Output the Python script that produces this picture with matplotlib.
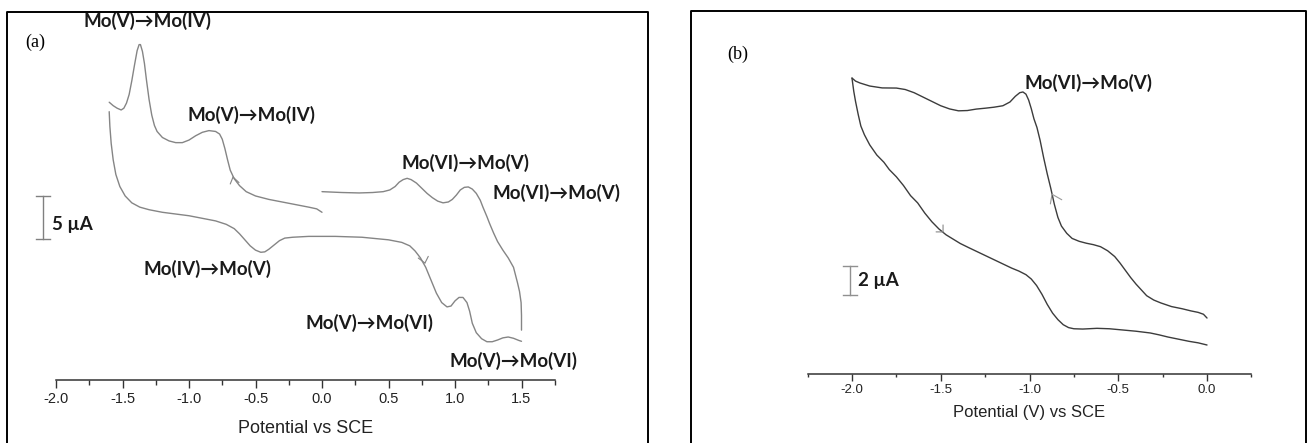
import matplotlib
matplotlib.use('Agg')
import matplotlib.pyplot as plt
from matplotlib.lines import Line2D
from matplotlib.ticker import MultipleLocator

# ---- panel (a) data: potential (V vs SCE), current (uA) ----
a_upper_v = [-1.60, -1.57, -1.54, -1.51, -1.49, -1.47, -1.45, -1.43, -1.41, -1.39, -1.375, -1.365,
             -1.35, -1.335, -1.32, -1.30, -1.28, -1.26, -1.24, -1.20, -1.15, -1.10, -1.05, -1.00,
             -0.95, -0.90, -0.85, -0.80, -0.77, -0.75, -0.73, -0.71, -0.69, -0.66, -0.62, -0.57,
             -0.50, -0.40, -0.30, -0.20, -0.10, -0.04, 0.00]
a_upper_i = [32.3, 31.9, 31.6, 31.4, 31.6, 32.2, 33.2, 34.8, 36.6, 38.3, 39.0, 39.0,
             38.2, 36.8, 34.9, 32.6, 30.8, 29.6, 28.9, 28.2, 27.8, 27.6, 27.6, 27.9,
             28.4, 28.8, 29.0, 28.9, 28.6, 28.0, 26.9, 25.6, 24.4, 23.4, 22.6, 21.9,
             21.4, 21.0, 20.7, 20.4, 20.1, 19.9, 19.5]

a_lower_v = [-1.60, -1.595, -1.585, -1.57, -1.55, -1.52, -1.48, -1.43, -1.37, -1.30, -1.20, -1.10,
             -1.00, -0.90, -0.80, -0.72, -0.66, -0.62, -0.58, -0.54, -0.50, -0.46, -0.43, -0.40,
             -0.36, -0.32, -0.28, -0.22, -0.10, 0.10, 0.30, 0.50, 0.60, 0.66, 0.70, 0.74, 0.78,
             0.82, 0.86, 0.90, 0.94, 0.97, 1.00, 1.03, 1.06, 1.09, 1.11, 1.13, 1.16, 1.20, 1.24,
             1.28, 1.32, 1.36, 1.40, 1.44, 1.48, 1.50]
a_lower_i = [31.2, 29.5, 27.5, 25.6, 23.9, 22.5, 21.4, 20.6, 20.1, 19.8, 19.5, 19.3,
             19.1, 18.8, 18.5, 18.1, 17.6, 17.0, 16.3, 15.6, 15.1, 14.85, 14.9, 15.2,
             15.7, 16.2, 16.5, 16.6, 16.7, 16.7, 16.6, 16.3, 16.0, 15.6, 15.0, 14.2, 13.1,
             11.6, 10.1, 9.0, 8.5, 8.6, 9.2, 9.6, 9.6, 9.0, 8.0, 6.6, 5.5, 4.8, 4.45,
             4.45, 4.65, 4.9, 5.0, 4.85, 4.6, 4.5]

a_right_v = [1.50, 1.50, 1.497, 1.485, 1.47, 1.44, 1.40, 1.36, 1.32, 1.29, 1.26, 1.24, 1.21, 1.19,
             1.16, 1.13, 1.10, 1.07, 1.04, 1.01, 0.98, 0.95, 0.91, 0.87, 0.83, 0.79, 0.75, 0.71,
             0.67, 0.64, 0.61, 0.58, 0.55, 0.51, 0.46, 0.38, 0.28, 0.15, 0.00]
a_right_i = [5.8, 7.5, 9.0, 10.3, 11.3, 13.1, 14.2, 15.1, 16.1, 17.1, 18.2, 19.0, 20.1, 20.9,
             21.7, 22.2, 22.45, 22.4, 22.1, 21.5, 21.0, 20.7, 20.6, 20.8, 21.2, 21.7, 22.3, 22.9,
             23.3, 23.45, 23.3, 23.0, 22.5, 22.1, 21.9, 21.8, 21.75, 21.8, 21.9]

a_labels = ['Mo(V)\u2192Mo(IV)', 'Mo(V)\u2192Mo(IV)', 'Mo(VI)\u2192Mo(V)', 'Mo(VI)\u2192Mo(V)',
            'Mo(IV)\u2192Mo(V)', 'Mo(V)\u2192Mo(VI)', 'Mo(V)\u2192Mo(VI)']
a_label_v = [-1.31, -0.53, 1.08, 1.76, -0.86, 0.36, 1.44]
a_label_i = [41.74, 30.81, 25.23, 21.74, 12.91, 6.63, 2.21]

# ---- panel (b) data ----
b_upper_v = [-2.00, -1.98, -1.955, -1.90, -1.83, -1.75, -1.70, -1.65, -1.60, -1.55, -1.50, -1.45,
             -1.40, -1.35, -1.30, -1.25, -1.20, -1.15, -1.11, -1.08, -1.055, -1.037, -1.02, -1.005,
             -0.99, -0.975, -0.958, -0.94, -0.92, -0.90, -0.88, -0.86, -0.84, -0.82, -0.79, -0.76,
             -0.72, -0.68, -0.64, -0.60, -0.56, -0.52, -0.49, -0.46, -0.43, -0.40, -0.37, -0.34,
             -0.30, -0.26, -0.20, -0.14, -0.09, -0.05, -0.02, 0.00]
b_upper_i = [20.41, 20.2, 20.07, 19.86, 19.73, 19.72, 19.62, 19.4, 19.1, 18.8, 18.5, 18.28,
             18.15, 18.17, 18.27, 18.33, 18.4, 18.5, 18.76, 19.15, 19.4, 19.45, 19.3, 18.9,
             18.3, 17.6, 17.0, 16.1, 14.9, 13.8, 12.8, 11.7, 10.8, 10.2, 9.7, 9.35,
             9.15, 9.02, 8.92, 8.78, 8.5, 8.1, 7.65, 7.15, 6.65, 6.2, 5.8, 5.4,
             5.1, 4.9, 4.65, 4.5, 4.35, 4.25, 4.12, 3.86]

b_lower_v = [-2.00, -1.99, -1.98, -1.965, -1.95, -1.93, -1.90, -1.86, -1.82, -1.79, -1.75, -1.71,
             -1.67, -1.63, -1.59, -1.55, -1.51, -1.47, -1.43, -1.39, -1.34, -1.28, -1.22, -1.16,
             -1.10, -1.06, -1.02, -0.99, -0.96, -0.93, -0.90, -0.87, -0.84, -0.81, -0.78, -0.75,
             -0.70, -0.62, -0.55, -0.47, -0.40, -0.32, -0.27, -0.22, -0.16, -0.10, -0.05, 0.00]
b_lower_i = [20.41, 19.5, 18.8, 17.9, 17.1, 16.5, 15.8, 15.1, 14.6, 14.1, 13.6, 13.0,
             12.3, 11.8, 11.1, 10.5, 10.0, 9.6, 9.3, 9.0, 8.7, 8.35, 8.0, 7.65,
             7.3, 7.1, 6.85, 6.55, 6.1, 5.5, 4.8, 4.2, 3.75, 3.4, 3.2, 3.12,
             3.1, 3.15, 3.12, 3.03, 2.95, 2.83, 2.7, 2.55, 2.4, 2.25, 2.15, 2.0]

b_label = 'Mo(VI)\u2192Mo(V)'
b_label_v, b_label_i = -0.665, 20.07

W, H = 1309, 443
fig = plt.figure(figsize=(W / 100, H / 100), dpi=100)

bold_font = ['Lato', 'DejaVu Sans']
tick_font = 'Liberation Sans'
lab_size = 13.5


def px_axes(x0, x1, ytop, ybot):
    return fig.add_axes([x0 / W, 1 - ybot / H, (x1 - x0) / W, (ybot - ytop) / H])


def style_axis(ax, major_len, minor_len, pad, tsize):
    for s in ['left', 'right', 'top']:
        ax.spines[s].set_visible(False)
    ax.spines['bottom'].set_color('#333333')
    ax.spines['bottom'].set_linewidth(1.1)
    ax.yaxis.set_visible(False)
    ax.patch.set_alpha(0)
    ax.xaxis.set_major_locator(MultipleLocator(0.5))
    ax.xaxis.set_minor_locator(MultipleLocator(0.25))
    ax.xaxis.set_major_formatter(plt.FormatStrFormatter('%.1f'))
    ax.tick_params(axis='x', which='major', direction='out', length=major_len, width=1.0,
                   color='#333333', pad=pad, labelsize=tsize, labelcolor='#222222')
    ax.tick_params(axis='x', which='minor', direction='out', length=minor_len, width=1.0,
                   color='#333333')
    for lab in ax.get_xticklabels():
        lab.set_fontfamily(tick_font)


def chevron(ax, x, y, arms, color):
    for dx, dy in arms:
        ax.annotate('', xy=(x, y), xytext=(dx, dy), textcoords='offset points',
                    arrowprops=dict(arrowstyle='-', color=color, lw=0.8, shrinkA=0, shrinkB=0))


def curve(ax, v, i, color):
    ax.plot(v, i, color=color, lw=1.0, clip_on=False, solid_joinstyle='round',
            solid_capstyle='round', antialiased=True)


# ---------------- panel (a) ----------------
ax_a = px_axes(56, 554.75, 15, 380)
ax_a.set_xlim(-2.0, 1.75)
ax_a.set_ylim(0, 365 / 8.6)
style_axis(ax_a, 5.5, 3.5, 3.2, 10.5)
ax_a.set_xticks([-2.0, -1.5, -1.0, -0.5, 0.0, 0.5, 1.0, 1.5])
ax_a.set_xlabel('Potential vs SCE', fontsize=13, family=tick_font, color='#222222', labelpad=10)

cv_a = '#858585'
curve(ax_a, a_upper_v, a_upper_i, cv_a)
curve(ax_a, a_lower_v, a_lower_i, cv_a)
curve(ax_a, a_right_v, a_right_i, cv_a)
chevron(ax_a, -0.669, 23.6, [(-2, -5), (4.3, -4)], cv_a)
chevron(ax_a, 0.774, 13.6, [(-4.8, 3.6), (2.4, 4.8)], cv_a)

for txt, v, i in zip(a_labels, a_label_v, a_label_i):
    ax_a.text(v, i, txt, ha='center', va='center', fontsize=lab_size, fontweight='bold',
              family=bold_font, color='#1a1a1a', clip_on=False)

# 5 uA scale bar
ax_a.plot([-2.098, -2.098], [16.4, 21.4], color='#808080', lw=1.0, clip_on=False)
ax_a.plot([-2.15, -2.045], [16.4, 16.4], color='#808080', lw=1.0, clip_on=False)
ax_a.plot([-2.15, -2.045], [21.4, 21.4], color='#808080', lw=1.0, clip_on=False)
ax_a.text(-2.03, 18.1, '5 \u00b5A', ha='left', va='center', fontsize=lab_size, fontweight='bold',
          family=bold_font, color='#1a1a1a', clip_on=False)

# ---------------- panel (b) ----------------
ax_b = px_axes(807.6, 1251.4, 15, 374)
ax_b.set_xlim(-2.25, 0.25)
ax_b.set_ylim(0, 359 / 14.5)
style_axis(ax_b, 5, 2.5, 2.0, 9.5)
ax_b.set_xticks([-2.0, -1.5, -1.0, -0.5, 0.0])
ax_b.set_xlabel('Potential (V) vs SCE', fontsize=12, family=tick_font, color='#222222', labelpad=7)

cv_b = '#3c3c3c'
curve(ax_b, b_upper_v, b_upper_i, cv_b)
curve(ax_b, b_lower_v, b_lower_i, cv_b)
chevron(ax_b, -1.487, 9.8, [(-5, 0), (0, 5)], '#888888')
chevron(ax_b, -0.873, 12.4, [(-1.2, -7), (7, -4)], '#999999')

ax_b.text(b_label_v, b_label_i, b_label, ha='center', va='center', fontsize=lab_size,
          fontweight='bold', family=bold_font, color='#1a1a1a', clip_on=False)

# 2 uA scale bar
ax_b.plot([-2.011, -2.011], [5.45, 7.45], color='#909090', lw=1.0, clip_on=False)
ax_b.plot([-2.05, -1.97], [5.45, 5.45], color='#909090', lw=1.0, clip_on=False)
ax_b.plot([-2.05, -1.97], [7.45, 7.45], color='#909090', lw=1.0, clip_on=False)
ax_b.text(-1.965, 6.45, '2 \u00b5A', ha='left', va='center', fontsize=lab_size, fontweight='bold',
          family=bold_font, color='#1a1a1a', clip_on=False)

# ---------------- frames and panel letters ----------------
def fline(xs, ys):
    fig.add_artist(Line2D([x / W for x in xs], [1 - y / H for y in ys], color='black', lw=1.4))


fline([7, 7, 648, 648], [443, 12, 12, 443])
fline([691, 691, 1306, 1306], [443, 11, 11, 443])

fig.text(35 / W, 1 - 42 / H, '(a)', ha='center', va='center', fontsize=13, family='Liberation Serif')
fig.text(738 / W, 1 - 54 / H, '(b)', ha='center', va='center', fontsize=13, family='Liberation Serif')

fig.savefig('out.png', dpi=100)
